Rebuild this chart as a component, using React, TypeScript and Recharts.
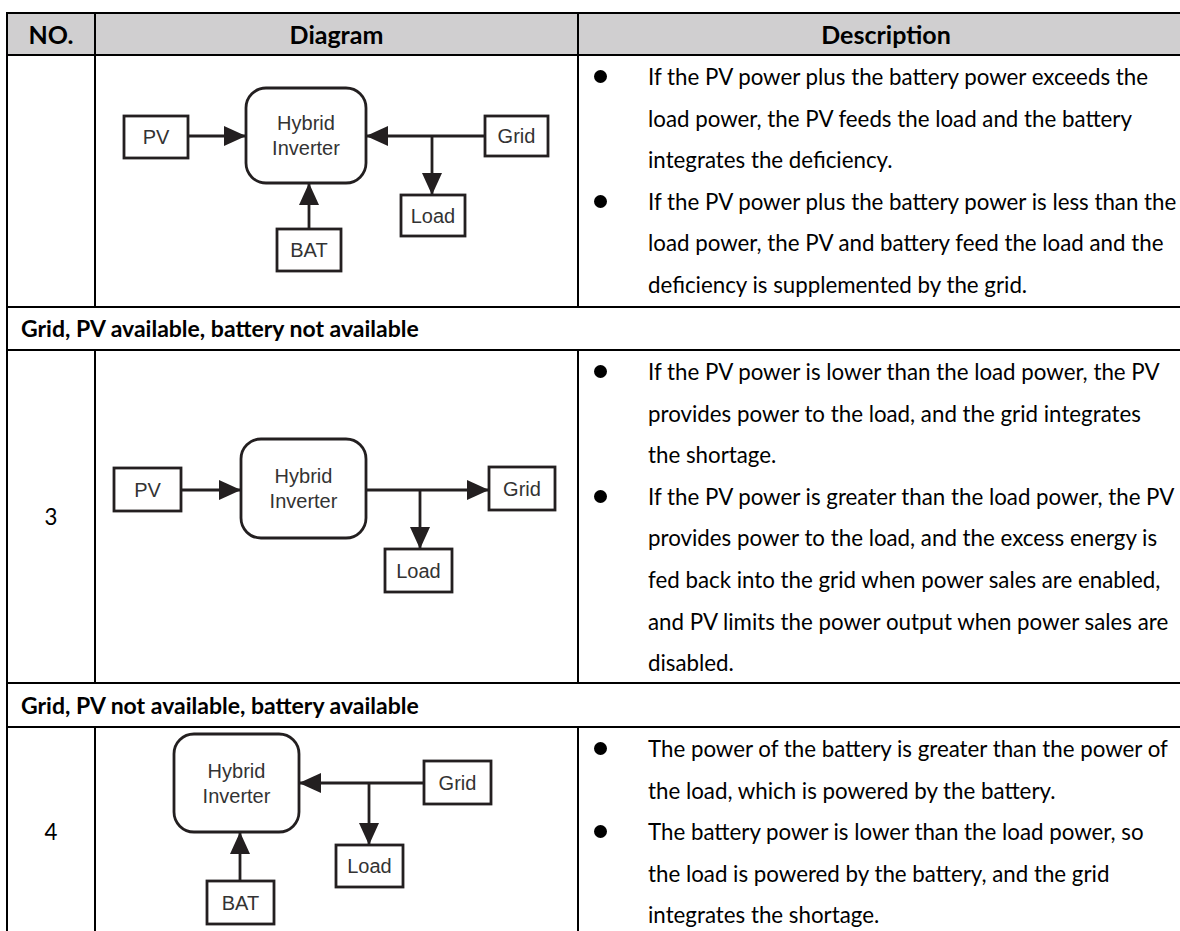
import React from "react";
import { ReferenceArea, ReferenceLine, Scatter, ScatterChart, XAxis, YAxis } from "recharts";

// ---- table text ----
const headers = ["NO.", "Diagram", "Description"];
const sectionTitles = [
  "Grid, PV available, battery not available",
  "Grid, PV not available, battery available",
];
const rowNumbers = ["", "3", "4"];

const descRow1 = [
  [
    "If the PV power plus the battery power exceeds the",
    "load power, the PV feeds the load and the battery",
    "integrates the deficiency.",
  ],
  [
    "If the PV power plus the battery power is less than the",
    "load power, the PV and battery feed the load and the",
    "deficiency is supplemented by the grid.",
  ],
];
const descRow3 = [
  [
    "If the PV power is lower than the load power, the PV",
    "provides power to the load, and the grid integrates",
    "the shortage.",
  ],
  [
    "If the PV power is greater than the load power, the PV",
    "provides power to the load, and the excess energy is",
    "fed back into the grid when power sales are enabled,",
    "and PV limits the power output when power sales are",
    "disabled.",
  ],
];
const descRow4 = [
  [
    "The power of the battery is greater than the power of",
    "the load, which is powered by the battery.",
  ],
  [
    "The battery power is lower than the load power, so",
    "the load is powered by the battery, and the grid",
    "integrates the shortage.",
  ],
];

// ---- diagram data (diagram units, origin at top-left of the cell) ----
type Node = { label: string[]; kind: "inverter" | "device"; x1: number; x2: number; y1: number; y2: number };
type Link = { x1: number; y1: number; x2: number; y2: number };

const nodesA: Node[] = [
  { label: ["PV"], kind: "device", x1: 28, x2: 92, y1: 61, y2: 103 },
  { label: ["Hybrid", "Inverter"], kind: "inverter", x1: 150, x2: 270, y1: 33, y2: 128 },
  { label: ["Grid"], kind: "device", x1: 389, x2: 452, y1: 61, y2: 101 },
  { label: ["Load"], kind: "device", x1: 305, x2: 369, y1: 140, y2: 181 },
  { label: ["BAT"], kind: "device", x1: 181, x2: 245, y1: 174, y2: 216 },
];
const linksA: Link[] = [
  { x1: 92, y1: 81, x2: 150, y2: 81 },
  { x1: 389, y1: 81, x2: 270, y2: 81 },
  { x1: 336, y1: 81, x2: 336, y2: 140 },
  { x1: 213, y1: 174, x2: 213, y2: 128 },
];

const nodesB: Node[] = [
  { label: ["PV"], kind: "device", x1: 18, x2: 85, y1: 118, y2: 161 },
  { label: ["Hybrid", "Inverter"], kind: "inverter", x1: 145, x2: 270, y1: 89, y2: 188 },
  { label: ["Grid"], kind: "device", x1: 393, x2: 459, y1: 117, y2: 160 },
  { label: ["Load"], kind: "device", x1: 289, x2: 356, y1: 199, y2: 242 },
];
const linksB: Link[] = [
  { x1: 85, y1: 140, x2: 145, y2: 140 },
  { x1: 270, y1: 140, x2: 393, y2: 140 },
  { x1: 324, y1: 140, x2: 324, y2: 199 },
];

const nodesC: Node[] = [
  { label: ["Hybrid", "Inverter"], kind: "inverter", x1: 78, x2: 203, y1: 7, y2: 105 },
  { label: ["Grid"], kind: "device", x1: 328, x2: 395, y1: 34, y2: 77 },
  { label: ["Load"], kind: "device", x1: 240, x2: 307, y1: 118, y2: 160 },
  { label: ["BAT"], kind: "device", x1: 111, x2: 178, y1: 154, y2: 197 },
];
const linksC: Link[] = [
  { x1: 328, y1: 56, x2: 203, y2: 56 },
  { x1: 273, y1: 56, x2: 273, y2: 118 },
  { x1: 144, y1: 154, x2: 144, y2: 105 },
];

// ---- layout ----
const INK = "#231f20";
const TEXT_FONT = "Lato, 'Open Sans', sans-serif";
const DIAGRAM_FONT = "'Liberation Sans', Arial, sans-serif";
const LEFT = 7;
const COL1 = 95;
const COL2 = 578;
const RIGHT = 1194;
const LINE_H = 41.6;
const BODY_SIZE = 22.3;
const rowLines = [13, 55, 307, 350, 683, 727, 936];

const BoxShape = (props: any) => {
  const { x, y, width, height, node } = props;
  const cx = x + width / 2;
  const cy = y + height / 2;
  const n = node.label.length;
  return (
    <g>
      <rect
        x={x}
        y={y}
        width={width}
        height={height}
        rx={node.kind === "inverter" ? 20 : 0}
        fill="#fff"
        stroke={INK}
        strokeWidth={2.8}
      />
      {node.label.map((t: string, i: number) => (
        <text
          key={t}
          x={cx}
          y={cy + (i - (n - 1) / 2) * 25}
          textAnchor="middle"
          dominantBaseline="central"
          fontFamily={DIAGRAM_FONT}
          fontSize={20}
          fill="#333"
        >
          {t}
        </text>
      ))}
    </g>
  );
};

const ArrowHead = (props: any) => {
  const { cx, cy, payload } = props;
  const len = 22;
  const half = 10;
  const ux = payload.dx;
  const uy = payload.dy;
  const bx = cx - ux * len;
  const by = cy - uy * len;
  const pts = `${cx},${cy} ${bx - uy * half},${by + ux * half} ${bx + uy * half},${by - ux * half}`;
  return <polygon points={pts} fill={INK} />;
};

function Diagram({ nodes, links, width, height }: { nodes: Node[]; links: Link[]; width: number; height: number }) {
  const heads = links.map((l) => ({
    x: l.x2,
    y: l.y2,
    dx: Math.sign(l.x2 - l.x1),
    dy: Math.sign(l.y2 - l.y1),
  }));
  return (
    <ScatterChart width={width} height={height} margin={{ top: 0, right: 0, bottom: 0, left: 0 }}>
      <XAxis type="number" dataKey="x" domain={[0, width]} allowDataOverflow hide />
      <YAxis type="number" dataKey="y" domain={[0, height]} allowDataOverflow reversed hide />
      {links.map((l, i) => (
        <ReferenceLine
          key={`l${i}`}
          segment={[
            { x: l.x1, y: l.y1 },
            { x: l.x2, y: l.y2 },
          ]}
          stroke={INK}
          strokeWidth={2.8}
          ifOverflow="visible"
        />
      ))}
      {nodes.map((n) => (
        <ReferenceArea
          key={n.label.join("-")}
          x1={n.x1}
          x2={n.x2}
          y1={n.y1}
          y2={n.y2}
          ifOverflow="visible"
          shape={(p: any) => <BoxShape {...p} node={n} />}
        />
      ))}
      <Scatter data={heads} shape={ArrowHead} isAnimationActive={false} />
    </ScatterChart>
  );
}

function Description({ items, top }: { items: string[][]; top: number }) {
  let lineIdx = 0;
  const out: React.ReactNode[] = [];
  items.forEach((item, ii) => {
    item.forEach((line, li) => {
      const y = top + lineIdx * LINE_H;
      if (li === 0) {
        out.push(
          <div
            key={`b${ii}`}
            style={{
              position: "absolute",
              left: 594,
              top: y + LINE_H / 2 - 7,
              width: 13,
              height: 13,
              borderRadius: "50%",
              background: "#000",
            }}
          />
        );
      }
      out.push(
        <div
          key={`t${ii}-${li}`}
          style={{
            position: "absolute",
            left: 648,
            top: y,
            height: LINE_H,
            lineHeight: `${LINE_H}px`,
            whiteSpace: "nowrap",
            fontSize: BODY_SIZE,
            color: "#000",
          }}
        >
          {line}
        </div>
      );
      lineIdx += 1;
    });
  });
  return <>{out}</>;
}

const hLine = (y: number, key: string) => (
  <div key={key} style={{ position: "absolute", left: LEFT - 1, top: y - 1, width: RIGHT - LEFT, height: 2, background: "#000" }} />
);
const vLine = (x: number, y1: number, y2: number, key: string) => (
  <div key={key} style={{ position: "absolute", left: x - 1, top: y1 - 1, width: 2, height: y2 - y1 + 2, background: "#000" }} />
);

export default function App() {
  const [tTop, hBot, r1Bot, s1Bot, r3Bot, s2Bot, r4Bot] = rowLines;
  const dataRows = [
    { top: hBot, bottom: r1Bot, desc: descRow1, nodes: nodesA, links: linksA, no: rowNumbers[0] },
    { top: s1Bot, bottom: r3Bot, desc: descRow3, nodes: nodesB, links: linksB, no: rowNumbers[1] },
    { top: s2Bot, bottom: r4Bot, desc: descRow4, nodes: nodesC, links: linksC, no: rowNumbers[2] },
  ];
  const sections = [
    { top: r1Bot, bottom: s1Bot, title: sectionTitles[0] },
    { top: r3Bot, bottom: s2Bot, title: sectionTitles[1] },
  ];
  const headerCells = [
    [LEFT, COL1],
    [COL1, COL2],
    [COL2, RIGHT],
  ];
  return (
    <div
      style={{
        position: "fixed",
        left: 0,
        top: 0,
        width: 1180,
        height: 931,
        overflow: "hidden",
        background: "#fff",
        fontFamily: TEXT_FONT,
      }}
    >
      {/* header */}
      <div style={{ position: "absolute", left: LEFT, top: tTop, width: RIGHT - LEFT, height: hBot - tTop, background: "#d0cfd0" }} />
      {headers.map((h, i) => (
        <div
          key={h}
          style={{
            position: "absolute",
            left: headerCells[i][0],
            width: headerCells[i][1] - headerCells[i][0],
            top: tTop,
            height: hBot - tTop,
            lineHeight: `${hBot - tTop}px`,
            textAlign: "center",
            fontWeight: 700,
            fontSize: 25,
            color: "#000",
          }}
        >
          {h}
        </div>
      ))}

      {sections.map((s) => (
        <div
          key={s.title}
          style={{
            position: "absolute",
            left: 21,
            top: s.top,
            height: s.bottom - s.top,
            lineHeight: `${s.bottom - s.top}px`,
            fontWeight: 700,
            fontSize: 23,
            whiteSpace: "nowrap",
            color: "#000",
          }}
        >
          {s.title}
        </div>
      ))}

      {dataRows.map((r, i) => (
        <React.Fragment key={i}>
          <div
            style={{
              position: "absolute",
              left: LEFT,
              width: COL1 - LEFT,
              top: r.top,
              height: r.bottom - r.top,
              lineHeight: `${r.bottom - r.top}px`,
              textAlign: "center",
              fontSize: BODY_SIZE,
              color: "#000",
            }}
          >
            {r.no}
          </div>
          <div style={{ position: "absolute", left: COL1 + 1, top: r.top }}>
            <Diagram nodes={r.nodes} links={r.links} width={COL2 - COL1 - 1} height={r.bottom - r.top} />
          </div>
          <Description items={r.desc} top={r.top + 1} />
        </React.Fragment>
      ))}

      {/* borders */}
      {rowLines.map((y, i) => hLine(y, `h${i}`))}
      {vLine(LEFT, tTop, r4Bot, "vl")}
      {dataRows.map((r, i) => vLine(COL1, i === 0 ? tTop : r.top, r.bottom, `v1${i}`))}
      {dataRows.map((r, i) => vLine(COL2, i === 0 ? tTop : r.top, r.bottom, `v2${i}`))}
    </div>
  );
}
